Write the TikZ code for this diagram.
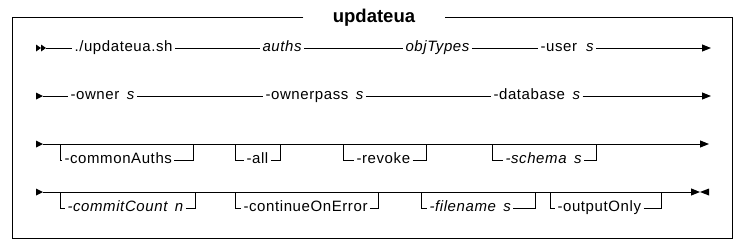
\documentclass[tikz,border=0pt]{standalone}
\usepackage{fontspec}
\setmainfont{Liberation Sans}
\newfontfamily\lblfont{Liberation Sans}[LetterSpace=4]
\usetikzlibrary{arrows.meta}
\begin{document}
\begin{tikzpicture}[x=1pt,y=-1pt,line width=1pt,
  lbl/.style={inner xsep=2pt,inner ysep=0pt,text height=10pt,text depth=3pt,anchor=west,font=\lblfont\fontsize{15}{17}\selectfont},
  ttl/.style={inner xsep=29pt,inner ysep=0pt,text height=14pt,text depth=4pt,font=\fontsize{18.5}{22}\selectfont\bfseries},
  endarr/.style={-{Triangle[length=9pt,width=7pt]}},
  tri/.style={fill=black,draw=none}]
\useasboundingbox (0,0) rectangle (744,250);
% frame with title
\node[ttl] (title) at (374,17) {updateua};
\draw (title.west) -- (12,17) -- (12,238) -- (732,238) -- (732,17) -- (title.east);
% ---------------- row 1
\coordinate (r1s) at (46,48);
\fill[tri] (36,44.5) -- (41,48) -- (36,51.5) -- cycle;
\fill[tri] (41,44.5) -- (46,48) -- (41,51.5) -- cycle;
\node[lbl] (upd) at (72,48) {./updateua.sh};
\node[lbl] (auths) at (260,48) {\itshape auths};
\node[lbl] (obj) at (403,48) {\itshape objTypes};
\node[lbl] (user) at (538,48) {-user\hspace{0.6em}\itshape s};
\coordinate (r1e) at (711,48);
\draw (r1s) -- (upd.west);
\draw (upd.east) -- (auths.west);
\draw (auths.east) -- (obj.west);
\draw (obj.east) -- (user.west);
\draw[endarr] (user.east) -- (r1e);
% ---------------- row 2
\coordinate (r2s) at (43,96);
\fill[tri] (36,92.5) -- (43,96) -- (36,99.5) -- cycle;
\node[lbl] (own) at (68,96) {-owner\hspace{0.5em}\itshape s};
\node[lbl] (ownp) at (263,96) {-ownerpass\hspace{0.5em}\itshape s};
\node[lbl] (db) at (491,96) {-database\hspace{0.5em}\itshape s};
\coordinate (r2e) at (711,96);
\draw (r2s) -- (own.west);
\draw (own.east) -- (ownp.west);
\draw (ownp.east) -- (db.west);
\draw[endarr] (db.east) -- (r2e);
% ---------------- row 3
\coordinate (r3s) at (43,144);
\fill[tri] (36,140.5) -- (43,144) -- (36,147.5) -- cycle;
\coordinate (r3e) at (709,144);
\draw[endarr] (r3s) -- (r3e);
\coordinate (caL) at (60,144);  \coordinate (caR) at (193,144);
\coordinate (alL) at (235,144); \coordinate (alR) at (280,144);
\coordinate (rvL) at (343,144); \coordinate (rvR) at (426,144);
\coordinate (scL) at (492,144); \coordinate (scR) at (596,144);
\node[lbl] (ca) at (62,160) {-commonAuths};
\node[lbl] (al) at (244,160) {-all};
\node[lbl] (rv) at (354,160) {-revoke};
\node[lbl] (sc) at (503,160) {\itshape -schema\hspace{0.5em}s};
\draw (caL) |- (ca.west); \draw (ca.east) -| (caR);
\draw (alL) |- (al.west); \draw (al.east) -| (alR);
\draw (rvL) |- (rv.west); \draw (rv.east) -| (rvR);
\draw (scL) |- (sc.west); \draw (sc.east) -| (scR);
% ---------------- row 4
\coordinate (r4s) at (43,192);
\fill[tri] (36,188.5) -- (43,192) -- (36,195.5) -- cycle;
\coordinate (r4e) at (700,192);
\draw[endarr] (r4s) -- (r4e);
\fill[tri] (709,188.5) -- (700,192) -- (709,195.5) -- cycle;
\coordinate (ccL) at (60,192);  \coordinate (ccR) at (195,192);
\coordinate (ceL) at (235,192); \coordinate (ceR) at (378,192);
\coordinate (fnL) at (421,192); \coordinate (fnR) at (535,192);
\coordinate (ooL) at (550,192); \coordinate (ooR) at (661,192);
\node[lbl] (cc) at (65,208) {\itshape -commitCount\hspace{0.5em}n};
\node[lbl] (ce) at (241,208) {-continueOnError};
\node[lbl] (fn) at (427,208) {\itshape -filename\hspace{0.5em}s};
\node[lbl] (oo) at (555,208) {-outputOnly};
\draw (ccL) |- (cc.west); \draw (cc.east) -| (ccR);
\draw (ceL) |- (ce.west); \draw (ce.east) -| (ceR);
\draw (fnL) |- (fn.west); \draw (fn.east) -| (fnR);
\draw (ooL) |- (oo.west); \draw (oo.east) -| (ooR);
\end{tikzpicture}
\end{document}
